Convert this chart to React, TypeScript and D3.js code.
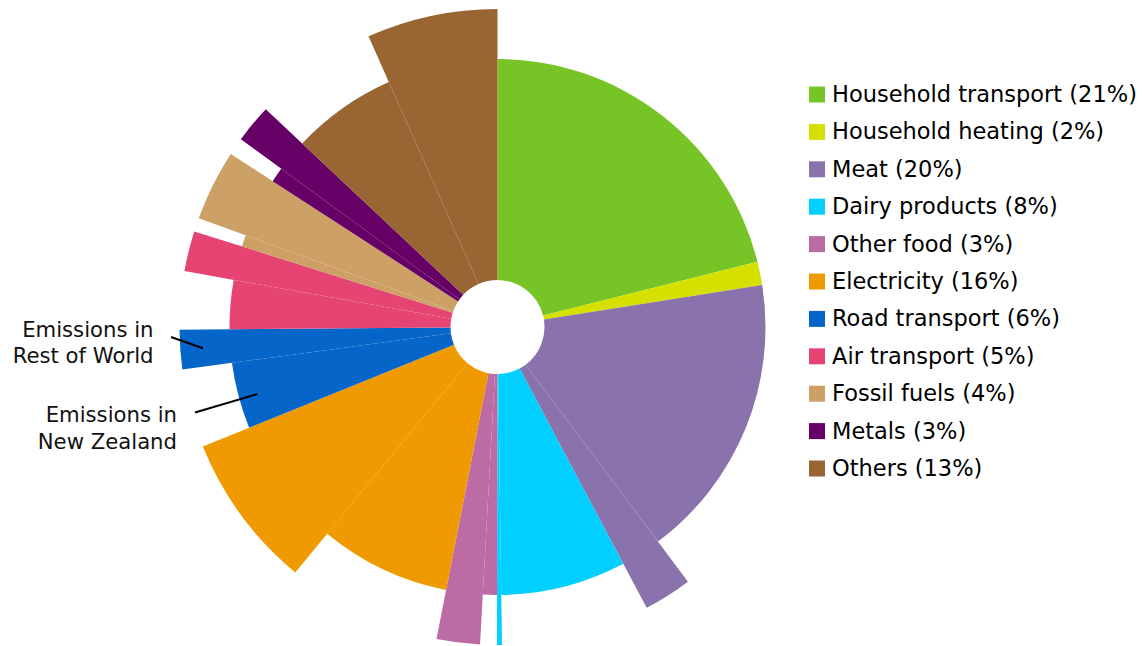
import React from 'react';
import * as d3 from 'd3';

// Categories in clockwise order from 12 o'clock
const categories = [
  'Household transport',
  'Household heating',
  'Meat',
  'Dairy products',
  'Other food',
  'Electricity',
  'Road transport',
  'Air transport',
  'Fossil fuels',
  'Metals',
  'Others',
];
// Share shown in legend (%)
const legendShares = [21, 2, 20, 8, 3, 16, 6, 5, 4, 3, 13];
// Emissions in New Zealand (% of total)
const nzValues = [21.1, 1.4, 17.3, 7.55, 0.85, 7.9, 4.0, 2.95, 0.7, 0.9, 6.35];
// Emissions in Rest of World (% of total)
const rowValues = [0, 0, 2.45, 0.25, 2.2, 7.9, 2.0, 2.05, 3.6, 1.95, 6.65];
const regions = ['NZ', 'RoW'];
const colors = [
  '#76C425',
  '#D6E000',
  '#8A72AD',
  '#00CFFF',
  '#BC6BA5',
  '#EE9A00',
  '#0565C8',
  '#E64574',
  '#CDA066',
  '#660066',
  '#996633',
];

type Slice = { cat: number; region: string; value: number };

const W = 1143;
const H = 646;
const CX = 497.5;
const CY = 327;
const HOLE = 47;

export default function App() {
  const slices: Slice[] = [];
  categories.forEach((_, i) => {
    slices.push({ cat: i, region: 'NZ', value: nzValues[i] });
    slices.push({ cat: i, region: 'RoW', value: rowValues[i] });
  });

  const pie = d3
    .pie<Slice>()
    .value((d) => d.value)
    .sort(null)
    .startAngle(0)
    .endAngle(2 * Math.PI);
  const arcsData = pie(slices).filter((a) => a.data.value > 0);

  const radius = d3.scaleOrdinal<string, number>().domain(regions).range([268, 318]);
  const arc = d3
    .arc<d3.PieArcDatum<Slice>>()
    .innerRadius(HOLE)
    .outerRadius((d) => radius(d.data.region));

  const font = 'Verdana, "DejaVu Sans", sans-serif';
  const legendX = 809;
  const legendY = 86.5;
  const legendStep = 37.4;

  return (
    <svg
      width={W}
      height={H}
      style={{ position: 'absolute', left: 0, top: 0, background: '#fff' }}
    >
      <g transform={`translate(${CX},${CY})`}>
        {arcsData.map((a, i) => (
          <path key={i} d={arc(a) || ''} fill={colors[a.data.cat]} />
        ))}
      </g>

      {/* annotations */}
      <g fontFamily={font} fontSize={21.2} fill="#111" textAnchor="end">
        <text x={153.5} y={336.7}>Emissions in</text>
        <text x={153.5} y={363.3}>Rest of World</text>
        <text x={177} y={422.3}>Emissions in</text>
        <text x={177} y={449}>New Zealand</text>
      </g>
      <line x1={171} y1={337} x2={203} y2={348.3} stroke="#000" strokeWidth={2} />
      <line x1={195} y1={412.5} x2={257.5} y2={394} stroke="#000" strokeWidth={2} />

      {/* legend */}
      <g fontFamily={font} fontSize={22.5} fill="#000">
        {categories.map((c, i) => (
          <g key={c} transform={`translate(${legendX},${legendY + i * legendStep})`}>
            <rect x={0} y={0} width={16} height={16} fill={colors[i]} />
            <text x={23} y={15.5}>{`${c} (${legendShares[i]}%)`}</text>
          </g>
        ))}
      </g>
    </svg>
  );
}
